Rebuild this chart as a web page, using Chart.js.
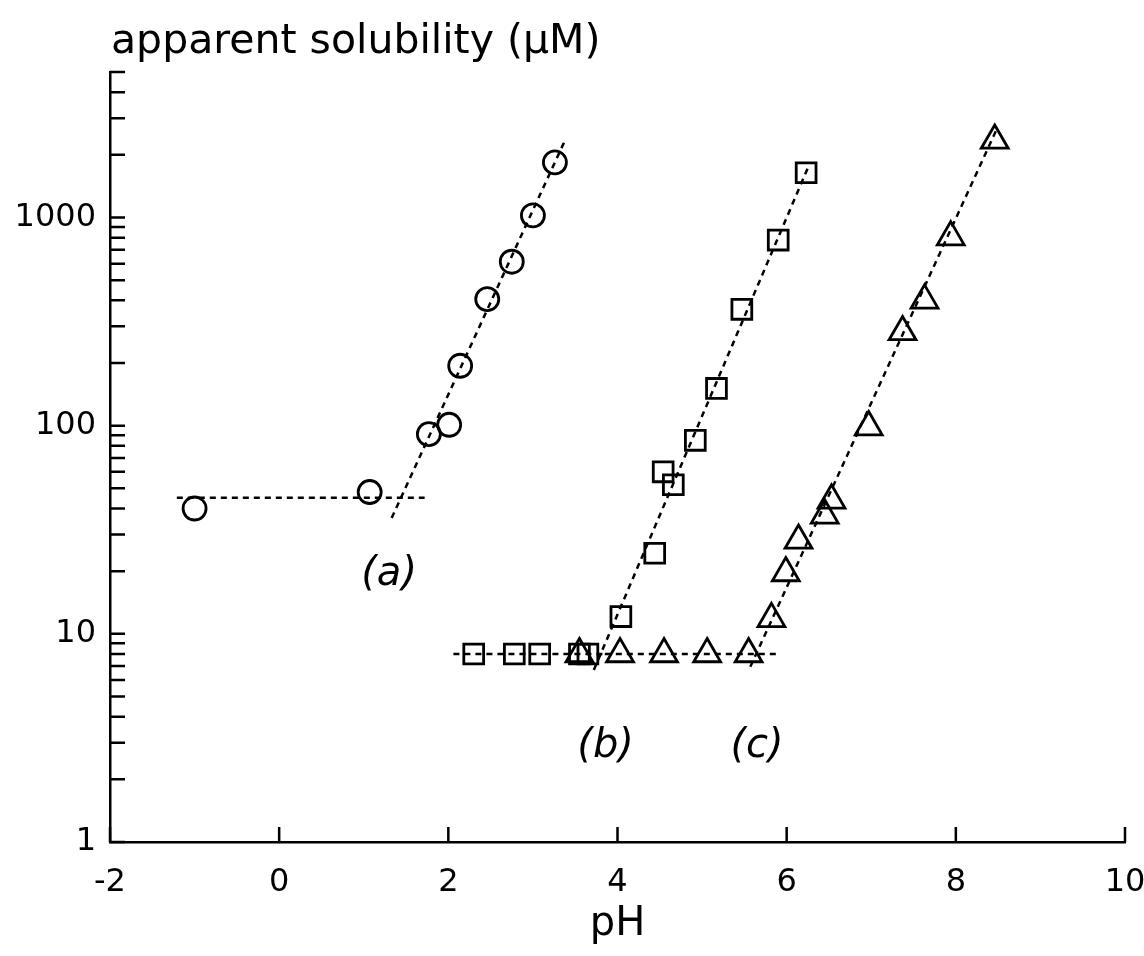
<!DOCTYPE html>
<html>
<head>
<meta charset="utf-8">
<script src="https://cdn.jsdelivr.net/npm/chart.js@4"></script>
<style>
  html, body { margin: 0; padding: 0; background: #fff; }
  canvas { display: block; }
</style>
</head>
<body>
<canvas id="chart" width="1144" height="956"></canvas>
<script>
// (a) circles
const phA  = [-1.0, 1.07, 1.77, 2.01, 2.14, 2.46, 2.75, 3.0, 3.26];
const solA = [40, 48, 91, 101, 194, 405, 613, 1023, 1840];

// (b) squares
const phB  = [2.3, 2.78, 3.08, 3.55, 3.65, 4.04, 4.44, 4.54, 4.66, 4.92, 5.17, 5.47, 5.9, 6.23];
const solB = [8, 8, 8, 8, 8, 12.1, 24.4, 60, 52, 85, 151, 362, 779, 1640];

// (c) triangles
const phC  = [3.55, 4.03, 4.55, 5.06, 5.55, 5.82, 5.99, 6.14, 6.45, 6.53, 6.97, 7.37, 7.63, 7.94, 8.46];
const solC = [8, 8, 8, 8, 8, 11.8, 19.6, 28.1, 37.1, 43.8, 98.5, 282, 400, 805, 2345];

// fitted lines, [pH, solubility] end points
const fitA_flat  = [[-1.21, 45], [1.72, 45]];
const fitA_slope = [[1.33, 36], [3.38, 2353]];
const fitB_flat  = [[2.06, 8], [3.85, 8]];
const fitB_slope = [[3.72, 6.7], [6.25, 1730]];
const fitC_flat  = [[3.85, 8], [5.92, 8]];
const fitC_slope = [[5.57, 6.95], [8.49, 2690]];

// axis ticks
const xMin = -2, xMax = 10, xStep = 2;
const yMin = 1, yMax = 5000;
const yDecades = [1, 10, 100, 1000];
const yMinor = [1, 2, 3, 4, 5, 6, 7, 8, 9];
const yLabels = [1, 10, 100, 1000];

const toPts = (xs, ys) => xs.map((x, i) => ({x: x, y: ys[i]}));
const seg = (pairs) => pairs.map(p => ({x: p[0], y: p[1]}));

Chart.defaults.font.family = '"DejaVu Sans", sans-serif';
Chart.defaults.color = '#000';

const markerSet = (data, style, radius) => ({
  data: data,
  showLine: false,
  pointStyle: style,
  pointRadius: radius,
  pointBorderWidth: 2.8,
  pointBorderColor: '#000',
  pointBackgroundColor: 'rgba(0,0,0,0)',
});

const fitSet = (data) => ({
  data: data,
  showLine: true,
  borderColor: '#000',
  borderWidth: 2.5,
  borderDash: [6, 5],
  pointRadius: 0,
  fill: false,
});

// tick marks inside the axes, the y title and the (a)(b)(c) tags
const decor = {
  id: 'decor',
  afterDraw(chart) {
    const ctx = chart.ctx;
    const area = chart.chartArea;
    const sx = chart.scales.x;
    const sy = chart.scales.y;

    ctx.save();
    ctx.strokeStyle = '#000';
    ctx.lineWidth = 2.5;
    ctx.beginPath();
    sy.ticks.forEach(t => {
      const py = sy.getPixelForValue(t.value);
      ctx.moveTo(area.left, py);
      ctx.lineTo(area.left + 15, py);
    });
    sx.ticks.forEach(t => {
      const px = sx.getPixelForValue(t.value);
      ctx.moveTo(px, area.bottom);
      ctx.lineTo(px, area.bottom - 15);
    });
    ctx.stroke();

    ctx.fillStyle = '#000';
    ctx.font = '41px "DejaVu Sans"';
    ctx.textAlign = 'left';
    ctx.textBaseline = 'alphabetic';
    ctx.fillText('apparent solubility (µM)', area.left + 1, 53);

    const tags = [
      {text: '(a)', x: 1.30, y: 19.2},
      {text: '(b)', x: 3.86, y: 2.86},
      {text: '(c)', x: 5.65, y: 2.86},
    ];
    ctx.font = 'italic 40px "DejaVu Sans"';
    ctx.textAlign = 'center';
    ctx.textBaseline = 'middle';
    tags.forEach(t => {
      ctx.fillText(t.text, sx.getPixelForValue(t.x), sy.getPixelForValue(t.y));
    });
    ctx.restore();
  }
};

new Chart(document.getElementById('chart').getContext('2d'), {
  type: 'scatter',
  data: {
    datasets: [
      markerSet(toPts(phA, solA), 'circle', 11.5),
      markerSet(toPts(phB, solB), 'rect', 14),
      markerSet(toPts(phC, solC), 'triangle', 15.5),
      fitSet(seg(fitA_flat)),
      fitSet(seg(fitA_slope)),
      fitSet(seg(fitB_flat)),
      fitSet(seg(fitB_slope)),
      fitSet(seg(fitC_flat)),
      fitSet(seg(fitC_slope)),
    ],
  },
  options: {
    responsive: false,
    animation: false,
    layout: {
      padding: {top: 72, right: 19, bottom: 0, left: 0},
    },
    scales: {
      x: {
        type: 'linear',
        min: xMin,
        max: xMax,
        ticks: {
          stepSize: xStep,
          font: {size: 32},
          padding: 21,
          color: '#000',
        },
        grid: {display: false, drawTicks: false},
        border: {display: true, color: '#000', width: 2.5},
        title: {
          display: true,
          text: 'pH',
          font: {size: 40},
          padding: {top: 0, bottom: 7},
          color: '#000',
        },
        afterFit(scale) {
          scale.height = 114;
          scale.paddingLeft = 0;
          scale.paddingRight = 0;
        },
      },
      y: {
        type: 'logarithmic',
        min: yMin,
        max: yMax,
        afterBuildTicks(scale) {
          const vals = yDecades.flatMap(d => yMinor.map(m => m * d)).filter(v => v <= yMax);
          scale.ticks = vals.map(v => ({value: v}));
        },
        ticks: {
          autoSkip: false,
          font: {size: 32},
          padding: 14,
          color: '#000',
          callback: (v) => yLabels.includes(v) ? String(v) : '',
        },
        grid: {display: false, drawTicks: false},
        border: {display: true, color: '#000', width: 2.5},
        afterFit(scale) {
          scale.width = 110;
        },
      },
    },
    plugins: {
      legend: {display: false},
      tooltip: {enabled: false},
      title: {display: false},
    },
  },
  plugins: [decor],
});
</script>
</body>
</html>
